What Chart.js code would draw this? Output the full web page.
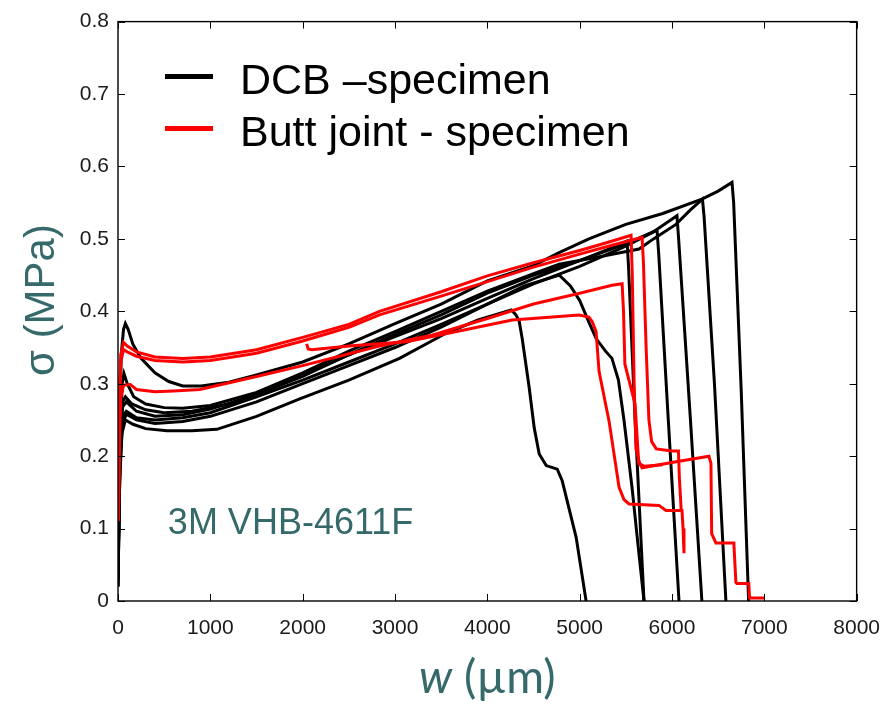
<!DOCTYPE html>
<html>
<head>
<meta charset="utf-8">
<script src="https://cdn.jsdelivr.net/npm/chart.js@4.4.0/dist/chart.umd.min.js"></script>
<style>
  html, body { margin: 0; padding: 0; background: #fff; }
  #wrap { width: 895px; height: 708px; }
</style>
</head>
<body>
<div id="wrap"><canvas id="sigmaChart" width="895" height="708"></canvas></div>
<script>
// tick values of both axes
const xTicks = [0, 1000, 2000, 3000, 4000, 5000, 6000, 7000, 8000];
const yTicks = [0, 0.1, 0.2, 0.3, 0.4, 0.5, 0.6, 0.7, 0.8];

const legendLabels = ['DCB \u2013specimen', 'Butt joint - specimen'];
const materialLabel = '3M VHB-4611F';

// DCB specimens, [w (µm), sigma (MPa)]
const dcb1 = [[0,0.04],[15,0.2],[35,0.34],[60,0.375],[80,0.383],[110,0.375],[160,0.355],[250,0.335],[400,0.315],[550,0.303],[700,0.297],[900,0.297],[1200,0.302],[1500,0.312],[2000,0.33],[2500,0.355],[3000,0.383],[3500,0.41],[4000,0.442],[4500,0.463],[4778,0.481],[5100,0.5],[5500,0.52],[5900,0.535],[6324,0.555],[6500,0.566],[6650,0.578],[6668,0.55],[6750,0.29],[6830,0]];
const dcb2 = [[0,0.03],[20,0.2],[45,0.3],[65,0.314],[100,0.3],[170,0.282],[300,0.272],[500,0.267],[700,0.266],[1000,0.27],[1500,0.288],[2000,0.315],[2500,0.345],[3000,0.372],[3500,0.4],[4000,0.428],[4500,0.452],[4778,0.465],[5200,0.475],[5643,0.486],[5800,0.5],[6043,0.52],[6200,0.54],[6330,0.555],[6348,0.53],[6460,0.3],[6584,0]];
const dcb3 = [[0,0.03],[20,0.22],[50,0.275],[80,0.282],[150,0.272],[300,0.264],[500,0.26],[800,0.262],[1200,0.272],[1600,0.29],[2000,0.31],[2500,0.34],[3000,0.368],[3500,0.395],[4000,0.425],[4500,0.45],[5000,0.47],[5500,0.493],[5800,0.51],[6054,0.532],[6072,0.5],[6200,0.25],[6324,0]];
const dcb4 = [[0,0.02],[20,0.2],[50,0.255],[90,0.262],[200,0.253],[400,0.25],[700,0.253],[1000,0.26],[1500,0.282],[2000,0.305],[2500,0.33],[3000,0.355],[3500,0.382],[4000,0.41],[4500,0.438],[5000,0.462],[5500,0.49],[5838,0.512],[5856,0.48],[5960,0.25],[6076,0]];
const dcb5 = [[0,0.03],[20,0.22],[50,0.268],[90,0.275],[200,0.262],[400,0.255],[700,0.257],[1000,0.265],[1500,0.285],[2000,0.312],[2500,0.34],[3000,0.365],[3500,0.39],[4000,0.418],[4500,0.445],[5000,0.47],[5300,0.485],[5514,0.497],[5530,0.46],[5600,0.25],[5697,0]];
const dcb6 = [[0,0.02],[20,0.18],[50,0.245],[90,0.258],[200,0.25],[400,0.245],[700,0.248],[1000,0.255],[1500,0.275],[2000,0.3],[2500,0.325],[3000,0.35],[3500,0.378],[4000,0.41],[4400,0.435],[4780,0.45],[4900,0.435],[5000,0.415],[5100,0.385],[5180,0.362],[5280,0.345],[5350,0.335],[5420,0.305],[5480,0.25],[5568,0.156],[5630,0.08],[5697,0]];
const dcb7 = [[0,0.02],[15,0.15],[40,0.23],[80,0.25],[162,0.244],[300,0.238],[530,0.235],[800,0.235],[1070,0.237],[1500,0.255],[1968,0.279],[2500,0.305],[3049,0.335],[3557,0.37],[3900,0.388],[4260,0.402],[4310,0.395],[4346,0.386],[4378,0.362],[4454,0.294],[4508,0.239],[4562,0.203],[4638,0.187],[4757,0.182],[4811,0.166],[4962,0.088],[5070,0]];

// butt joint specimens
const bj1 = [[5,0.11],[15,0.25],[30,0.34],[60,0.357],[100,0.352],[200,0.344],[400,0.337],[700,0.335],[1000,0.337],[1500,0.347],[2000,0.364],[2500,0.382],[2832,0.4],[3500,0.427],[4000,0.449],[4500,0.467],[5000,0.484],[5300,0.495],[5557,0.505],[5570,0.45],[5590,0.3],[5610,0.21],[5650,0.19],[5676,0.184],[6076,0.193],[6400,0.2],[6422,0.19],[6430,0.093],[6476,0.08],[6670,0.08],[6692,0.026],[6703,0.024],[6832,0.024],[6840,0.004],[7000,0.004]];
const bj2 = [[5,0.15],[15,0.28],[30,0.33],[60,0.347],[100,0.344],[200,0.338],[400,0.332],[700,0.33],[1000,0.332],[1500,0.342],[2000,0.359],[2500,0.378],[2832,0.395],[3500,0.421],[4000,0.441],[4500,0.461],[5000,0.479],[5400,0.493],[5676,0.502],[5690,0.47],[5720,0.35],[5750,0.25],[5780,0.22],[5830,0.21],[6000,0.207],[6070,0.207],[6080,0.17],[6100,0.125]];
const bj3 = [[5,0.12],[15,0.22],[30,0.28],[60,0.298],[133,0.299],[200,0.292],[400,0.289],[600,0.29],[886,0.292],[1500,0.31],[2000,0.325],[2832,0.352],[3400,0.367],[4000,0.39],[4500,0.41],[5000,0.425],[5351,0.436],[5460,0.438],[5475,0.4],[5490,0.327],[5600,0.272],[5640,0.19],[5700,0.186],[5900,0.188]];
const bj4 = [[2043,0.355],[2060,0.348],[2100,0.347],[2500,0.352],[3124,0.358],[3590,0.37],[4270,0.388],[4995,0.395],[5100,0.392],[5135,0.386],[5178,0.372],[5210,0.317],[5319,0.248],[5427,0.157],[5480,0.14],[5535,0.134],[5860,0.132],[5935,0.125],[6108,0.125],[6120,0.1],[6130,0.066]];

const dcbSeries = [dcb1, dcb2, dcb3, dcb4, dcb5, dcb6, dcb7];
const bjSeries = [bj1, bj2, bj3, bj4];

const black = '#000000';
const red = '#ff0000';
const teal = '#35696a';

function toPoints(arr) {
    return arr.map(p => ({ x: p[0], y: p[1] }));
}

const datasets = [];
dcbSeries.forEach((s, i) => {
    datasets.push({ label: 'DCB ' + (i + 1), data: toPoints(s), borderColor: black, borderWidth: 3, order: 2 });
});
bjSeries.forEach((s, i) => {
    datasets.push({ label: 'Butt ' + (i + 1), data: toPoints(s), borderColor: red, borderWidth: 3, order: 1 });
});

// box with inward ticks, legend, annotation and axis titles (matlab look)
const framePlugin = {
    id: 'frame',
    afterDatasetsDraw(chart) {
        const { ctx, chartArea: a, scales: { x, y } } = chart;
        ctx.save();
        ctx.strokeStyle = '#000';
        ctx.lineWidth = 1.4;
        ctx.strokeRect(a.left, a.top, a.right - a.left, a.bottom - a.top);
        ctx.lineWidth = 1;
        ctx.beginPath();
        xTicks.forEach(v => {
            const px = Math.round(x.getPixelForValue(v)) + 0.5;
            ctx.moveTo(px, a.bottom); ctx.lineTo(px, a.bottom - 7);
            ctx.moveTo(px, a.top); ctx.lineTo(px, a.top + 7);
        });
        yTicks.forEach(v => {
            const py = Math.round(y.getPixelForValue(v)) + 0.5;
            ctx.moveTo(a.left, py); ctx.lineTo(a.left + 7, py);
            ctx.moveTo(a.right, py); ctx.lineTo(a.right - 7, py);
        });
        ctx.stroke();

        // legend
        const colors = [black, red];
        ctx.font = '43px "Liberation Sans", Arial, sans-serif';
        ctx.textBaseline = 'alphabetic';
        ctx.textAlign = 'left';
        legendLabels.forEach((t, i) => {
            const ly = a.top + 55 + i * 52;
            ctx.strokeStyle = colors[i];
            ctx.lineWidth = 5;
            ctx.beginPath();
            ctx.moveTo(a.left + 47, ly);
            ctx.lineTo(a.left + 95, ly);
            ctx.stroke();
            ctx.fillStyle = '#000';
            ctx.fillText(t, a.left + 122, ly + 17);
        });

        // material label
        ctx.fillStyle = teal;
        ctx.font = '36px "Liberation Sans", Arial, sans-serif';
        ctx.fillText(materialLabel, x.getPixelForValue(540), y.getPixelForValue(0.093));
        ctx.restore();
    },
    afterDraw(chart) {
        const { ctx, chartArea: a } = chart;
        ctx.save();
        ctx.fillStyle = teal;
        ctx.textBaseline = 'alphabetic';
        // x title: italic w + (µm)
        const cx = (a.left + a.right) / 2;
        ctx.font = 'italic 46px Lato, sans-serif';
        const wW = ctx.measureText('w').width;
        ctx.font = '46px Lato, sans-serif';
        const restW = ctx.measureText(' (\u00b5m)').width;
        let sx = cx - (wW + restW) / 2;
        ctx.textAlign = 'left';
        ctx.font = 'italic 46px Lato, sans-serif';
        ctx.fillText('w', sx, 693);
        ctx.font = '46px Lato, sans-serif';
        ctx.fillText(' (\u00b5m)', sx + wW, 693);
        // y title
        ctx.translate(54, 300);
        ctx.rotate(-Math.PI / 2);
        ctx.textAlign = 'center';
        ctx.font = '42px "Liberation Sans", Arial, sans-serif';
        ctx.fillText('\u03c3 (MPa)', 0, 0);
        ctx.restore();
    }
};

new Chart(document.getElementById('sigmaChart'), {
    type: 'line',
    data: { datasets: datasets },
    options: {
        responsive: false,
        animation: false,
        devicePixelRatio: 1,
        layout: { padding: { left: 0, right: 37, top: 18, bottom: 0 } },
        elements: { point: { radius: 0 }, line: { tension: 0 } },
        plugins: { legend: { display: false }, tooltip: { enabled: false } },
        scales: {
            x: {
                type: 'linear', min: 0, max: 8000,
                afterBuildTicks: s => { s.ticks = xTicks.map(v => ({ value: v })); },
                afterFit: s => { s.height = 107; },
                grid: { display: false, drawTicks: false },
                border: { display: false },
                ticks: {
                    padding: 15, color: '#1a1a1a',
                    font: { family: '"Liberation Sans", Arial, sans-serif', size: 21 },
                    callback: v => String(v)
                }
            },
            y: {
                type: 'linear', min: 0, max: 0.8,
                afterBuildTicks: s => { s.ticks = yTicks.map(v => ({ value: v })); },
                afterFit: s => { s.width = 118; },
                grid: { display: false, drawTicks: false },
                border: { display: false },
                ticks: {
                    padding: 9, color: '#1a1a1a',
                    font: { family: '"Liberation Sans", Arial, sans-serif', size: 21 },
                    callback: v => String(v)
                }
            }
        }
    },
    plugins: [framePlugin]
});
</script>
</body>
</html>
